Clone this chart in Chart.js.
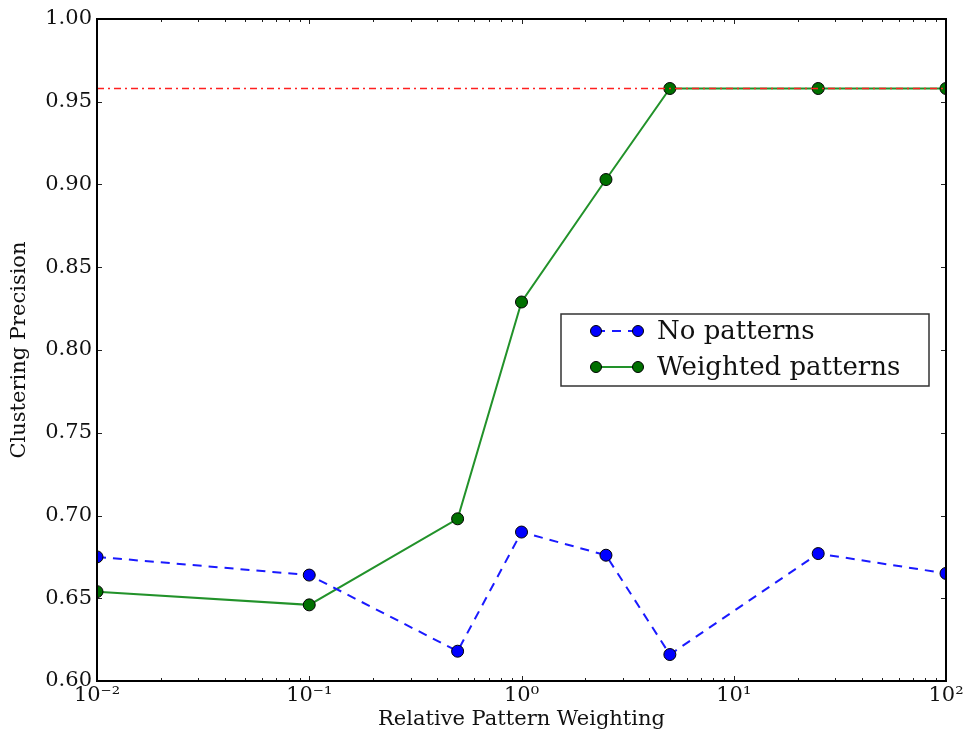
<!DOCTYPE html>
<html lang="en">
<head>
    <title>Clustering Precision</title>
    <meta charset="utf-8">
    <script src="https://cdn.jsdelivr.net/npm/chart.js"></script>
<style>
        html, body {
            margin: 0;
            padding: 0;
            background: white;
        }
        #wrap {
            width: 967px;
            height: 733px;
        }
</style>
</head>
<body>
    <div id="wrap"><canvas id="chart" width="967" height="733"></canvas></div>

    <script>
        const weights = [0.01, 0.1, 0.5, 1, 2.5, 5, 25, 100];
        const noPatterns = [0.675, 0.664, 0.618, 0.690, 0.676, 0.616, 0.677, 0.665];
        const weightedPatterns = [0.654, 0.646, 0.698, 0.829, 0.903, 0.958, 0.958, 0.958];
        const bestPrecision = 0.958;

        const xTicks = [0.01, 0.1, 1, 10, 100];
        const xTickLabels = ['10\u207B\u00B2', '10\u207B\u00B9', '10\u2070', '10\u00B9', '10\u00B2'];
        const yTicks = [0.60, 0.65, 0.70, 0.75, 0.80, 0.85, 0.90, 0.95, 1.00];

        const serif = '"DejaVu Serif", serif';

        function pts(ys) {
            return weights.map(function (w, i) { return {x: w, y: ys[i]}; });
        }

        // inward ticks on all sides plus the black frame, like matplotlib
        const framePlugin = {
            id: 'frame',
            afterDatasetsDraw(chart) {
                const ctx = chart.ctx;
                const a = chart.chartArea;
                const xs = chart.scales.x, ys = chart.scales.y;
                ctx.save();
                ctx.strokeStyle = '#222';
                ctx.lineWidth = 1;
                ctx.beginPath();
                yTicks.forEach(function (v) {
                    const p = Math.round(ys.getPixelForValue(v)) + 0.5;
                    ctx.moveTo(a.left, p); ctx.lineTo(a.left + 5, p);
                    ctx.moveTo(a.right, p); ctx.lineTo(a.right - 5, p);
                });
                for (let d = 0; d < xTicks.length; d++) {
                    const p = Math.round(xs.getPixelForValue(xTicks[d])) + 0.5;
                    ctx.moveTo(p, a.bottom); ctx.lineTo(p, a.bottom - 5);
                    ctx.moveTo(p, a.top); ctx.lineTo(p, a.top + 5);
                    if (d < xTicks.length - 1) {
                        for (let m = 2; m < 10; m++) {
                            const q = Math.round(xs.getPixelForValue(xTicks[d] * m)) + 0.5;
                            ctx.moveTo(q, a.bottom); ctx.lineTo(q, a.bottom - 3);
                            ctx.moveTo(q, a.top); ctx.lineTo(q, a.top + 3);
                        }
                    }
                }
                ctx.stroke();
                ctx.strokeStyle = '#000';
                ctx.lineWidth = 2;
                ctx.strokeRect(a.left, a.top, a.right - a.left, a.bottom - a.top);
                ctx.restore();
            }
        };

        // legend box inside the plot
        const legendPlugin = {
            id: 'boxLegend',
            afterDraw(chart) {
                const ctx = chart.ctx;
                const x0 = 561, y0 = 314, w = 368, h = 72;
                ctx.save();
                ctx.fillStyle = 'white';
                ctx.fillRect(x0, y0, w, h);
                ctx.strokeStyle = '#333';
                ctx.lineWidth = 1.5;
                ctx.strokeRect(x0, y0, w, h);
                const items = [
                    {label: 'No patterns', ds: chart.data.datasets[1], y: y0 + 17},
                    {label: 'Weighted patterns', ds: chart.data.datasets[2], y: y0 + 53}
                ];
                items.forEach(function (it) {
                    ctx.strokeStyle = it.ds.borderColor;
                    ctx.lineWidth = it.ds.borderWidth;
                    ctx.setLineDash(it.ds.borderDash || []);
                    ctx.beginPath();
                    ctx.moveTo(x0 + 35, it.y);
                    ctx.lineTo(x0 + 77, it.y);
                    ctx.stroke();
                    ctx.setLineDash([]);
                    [x0 + 35, x0 + 77].forEach(function (px) {
                        ctx.beginPath();
                        ctx.arc(px, it.y, 5.5, 0, Math.PI * 2);
                        ctx.fillStyle = it.ds.pointBackgroundColor;
                        ctx.fill();
                        ctx.lineWidth = 1;
                        ctx.strokeStyle = '#000';
                        ctx.stroke();
                    });
                    ctx.fillStyle = '#111';
                    ctx.font = '26px ' + serif;
                    ctx.textBaseline = 'middle';
                    ctx.fillText(it.label, x0 + 96, it.y + 1);
                });
                ctx.restore();
            }
        };

        new Chart(document.getElementById('chart'), {
            type: 'line',
            data: {
                datasets: [
                    {
                        label: 'Best',
                        data: [{x: xTicks[0], y: bestPrecision}, {x: xTicks[xTicks.length - 1], y: bestPrecision}],
                        borderColor: '#ff2020',
                        borderWidth: 1.5,
                        borderDash: [7, 4, 2, 4],
                        pointRadius: 0,
                        clip: 0
                    },
                    {
                        label: 'No patterns',
                        data: pts(noPatterns),
                        borderColor: '#1a1aff',
                        borderWidth: 2,
                        borderDash: [9, 7],
                        pointRadius: 6,
                        pointBackgroundColor: '#0000ff',
                        pointBorderColor: '#000',
                        pointBorderWidth: 1,
                        clip: 0
                    },
                    {
                        label: 'Weighted patterns',
                        data: pts(weightedPatterns),
                        borderColor: '#22922a',
                        borderWidth: 2,
                        pointRadius: 6,
                        pointBackgroundColor: '#007000',
                        pointBorderColor: '#000',
                        pointBorderWidth: 1,
                        clip: 0
                    }
                ]
            },
            options: {
                responsive: false,
                animation: false,
                layout: {
                    padding: {top: 19, right: 21, left: 0, bottom: 0}
                },
                plugins: {
                    legend: {display: false},
                    tooltip: {enabled: false}
                },
                scales: {
                    x: {
                        type: 'logarithmic',
                        min: 0.01,
                        max: 100,
                        grid: {display: false, drawTicks: false},
                        border: {display: false},
                        afterBuildTicks: function (scale) {
                            scale.ticks = xTicks.map(function (v) { return {value: v}; });
                        },
                        afterFit: function (scale) { scale.height = 52; },
                        ticks: {
                            autoSkip: false,
                            maxRotation: 0,
                            padding: 2,
                            color: '#111',
                            font: {family: serif, size: 21},
                            callback: function (v) {
                                const i = xTicks.indexOf(v);
                                return i >= 0 ? xTickLabels[i] : '';
                            }
                        },
                        title: {
                            display: true,
                            text: 'Relative Pattern Weighting',
                            color: '#111',
                            font: {family: serif, size: 21},
                            padding: {top: 0, bottom: 1}
                        }
                    },
                    y: {
                        min: 0.6,
                        max: 1.0,
                        grid: {display: false, drawTicks: false},
                        border: {display: false},
                        afterBuildTicks: function (scale) {
                            scale.ticks = yTicks.map(function (v) { return {value: v}; });
                        },
                        afterFit: function (scale) { scale.width = 97; },
                        ticks: {
                            padding: 5,
                            color: '#111',
                            font: {family: serif, size: 21},
                            callback: function (v) { return Number(v).toFixed(2); }
                        },
                        title: {
                            display: true,
                            text: 'Clustering Precision',
                            color: '#111',
                            font: {family: serif, size: 21},
                            padding: {top: 7, bottom: 0}
                        }
                    }
                }
            },
            plugins: [framePlugin, legendPlugin]
        });
    </script>
</body>
</html>
